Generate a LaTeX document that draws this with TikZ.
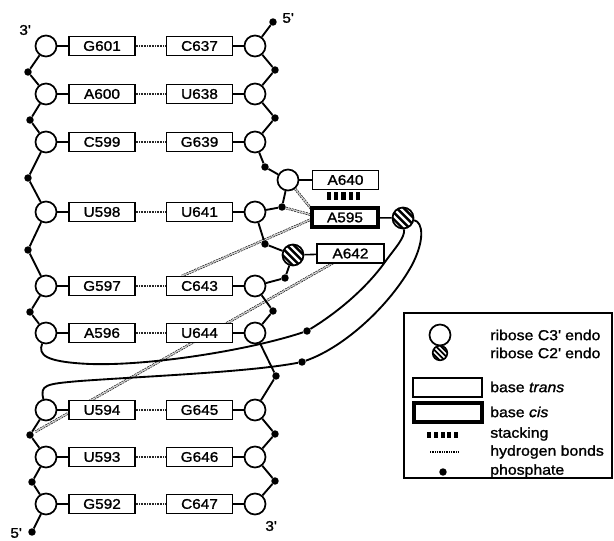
\documentclass[tikz,border=0pt]{standalone}
\usepackage{fontspec}
\setmainfont{Liberation Sans}[FakeStretch=1.1,FakeBold=1.3]
\usetikzlibrary{calc}
\begin{document}
\begin{tikzpicture}[x=0.75pt,y=-0.75pt,
  ribose/.style={circle,draw,line width=1.3pt,inner sep=0pt,minimum size=15.75pt,fill=white},
  hatched/.style={ribose,path picture={\foreach \d in {-5.6,-1.9,1.9,5.6}{\pgfmathsetmacro\ha{0.707*(\d+12)}\pgfmathsetmacro\hb{0.707*(\d-12)}\draw[line width=1.8pt] ([shift={(\ha pt,\hb pt)}]path picture bounding box.center) -- ([shift={(\hb pt,\ha pt)}]path picture bounding box.center);}}},
  hatchedsmall/.style={circle,draw,line width=1.2pt,inner sep=0pt,minimum size=11pt,fill=white,path picture={\foreach \d in {-4.1,-1.4,1.4,4.1}{\pgfmathsetmacro\ha{0.707*(\d+9)}\pgfmathsetmacro\hb{0.707*(\d-9)}\draw[line width=1.4pt] ([shift={(\ha pt,\hb pt)}]path picture bounding box.center) -- ([shift={(\hb pt,\ha pt)}]path picture bounding box.center);}}},
  base/.style={draw,line width=1.2pt,fill=white,minimum width=49.5pt,minimum height=14.25pt,inner sep=0pt,font=\fontsize{10.5}{12}\selectfont},
  basecis/.style={base,line width=2.4pt},
  phos/.style={circle,fill,inner sep=0pt,minimum size=5.6pt},
  bb/.style={line width=1.4pt},
  conn/.style={line width=1.2pt},
  hb/.style={line width=1.5pt,dash pattern=on 0.7pt off 0.5pt,black!85},
  hbl/.style={black!90,line width=0.5pt,double=black!15,double distance=0.9pt,dash pattern=on 1.5pt off 0.7pt},
  endlab/.style={font=\fontsize{10.5}{12}\selectfont,inner sep=0pt},
  legtext/.style={anchor=west,font=\fontsize{10.8}{12}\selectfont,inner sep=0pt}
]
\useasboundingbox (0,0) rectangle (614,541);

% long hydrogen bonds (background)
\coordinate (h1) at (313,211);
\coordinate (h2) at (312,215);
\coordinate (h3) at (312,219);
\coordinate (h3e) at (182,276);
\coordinate (h4) at (333,263);
\coordinate (h4e) at (35,432);
\node[ribose] (ac) at (288,180) {};
\node[phos] (pa4) at (282,207) {};
\draw[hbl] (ac) -- (h1);
\draw[hbl] (pa4) -- (h2);
\draw[hbl] (h3) -- (h3e);
\draw[hbl] (h4) -- (h4e);

% base pairs
\foreach \y/\a/\b/\i in {46/G601/C637/1,94/A600/U638/2,142/C599/G639/3,212/U598/U641/4,286/G597/C643/5,333/A596/U644/6,410/U594/G645/7,457/U593/G646/8,504/G592/C647/9}{
  \node[ribose] (L\i) at (46,\y) {};
  \node[ribose] (R\i) at (255,\y) {};
  \node[base] (LB\i) at (102,\y) {\a};
  \node[base] (RB\i) at (199.5,\y) {\b};
  \draw[conn] (L\i) -- (LB\i);
  \draw[conn] (RB\i) -- (R\i);
  \draw[hb] (LB\i) -- (RB\i);
}

% unpaired bases
\node[base] (b640) at (345.5,180) {A640};
\node[basecis] (b595) at (345,217.5) {A595};
\node[hatched] (c595) at (403,218) {};
\node[hatched] (bc) at (293,255) {};
\node[base,minimum width=50.25pt] (b642) at (350.5,253.5) {A642};
\draw[conn] (ac) -- (b640);
\draw[conn] (b595) -- (c595);
\draw[conn] (bc) -- (b642);
\foreach \i in {0,...,4}{\fill (327+\i*7.2,192) rectangle ++(4.2,8);}

% phosphates left
\node[phos] (lp12) at (28,72) {};
\node[phos] (lp23) at (30,120) {};
\node[phos] (lp34) at (28,178) {};
\node[phos] (lp45) at (28,250) {};
\node[phos] (lp56) at (30,312) {};
\node[phos] (lp78) at (30,435) {};
\node[phos] (lp89) at (32,482) {};
\node[phos] (l5) at (32,532) {};
% phosphates right
\node[phos] (rtop) at (273,22) {};
\node[phos] (rp12) at (275,70) {};
\node[phos] (rp23) at (275,118) {};
\node[phos] (rp3a) at (265,167) {};
\node[phos] (p4b) at (265,244) {};
\node[phos] (pb5) at (285,278) {};
\node[phos] (rp56) at (273,311) {};
\node[phos] (rp67) at (276,376) {};
\node[phos] (rp78) at (275,434) {};
\node[phos] (rp89) at (275,481) {};
\node[phos] (pU) at (307,331) {};
\node[phos] (pL) at (302,362) {};

% backbones
\draw[bb] (L1) -- (lp12) -- (L2) -- (lp23) -- (L3) -- (lp34) -- (L4) -- (lp45) -- (L5) -- (lp56) -- (L6);
\draw[bb] (L7) -- (lp78) -- (L8) -- (lp89) -- (L9) -- (l5);
\draw[bb] (rtop) -- (R1) -- (rp12) -- (R2) -- (rp23) -- (R3) -- (rp3a) -- (ac) -- (pa4) -- (R4) -- (p4b) -- (bc) -- (pb5) -- (R5) -- (rp56) -- (R6) -- (rp67) -- (R7) -- (rp78) -- (R8) -- (rp89) -- (R9);

% loop curves
\draw[bb] (L6) .. controls (38,355) and (45,362) .. (90,364) .. controls (150,366) and (250,350) .. (pU) .. controls (335,314) and (365,290) .. (385,262) .. controls (395,248) and (405,238) .. (c595);
\draw[bb] (L7) .. controls (40,385) and (45,384) .. (80,381) .. controls (150,376) and (250,372) .. (pL) .. controls (345,347) and (390,305) .. (412,265) .. controls (425,240) and (423,222) .. (c595);

% end labels
\node[endlab] (t3a) at (25,30) {3\textquotesingle};
\node[endlab] (t5a) at (288,18) {5\textquotesingle};
\node[endlab] (t5b) at (16,533) {5\textquotesingle};
\node[endlab] (t3b) at (271,526) {3\textquotesingle};

% legend
\node[draw,line width=1.2pt,minimum width=156pt,minimum height=123.75pt,inner sep=0pt] (legend) at (508,395.5) {};
\node[ribose] (lg1) at (440,335) {};
\node[legtext] (lt1) at (490,335) {ribose C3\textquotesingle{} endo};
\node[hatchedsmall] (lg2) at (440,353) {};
\node[legtext] (lt2) at (490,353) {ribose C2\textquotesingle{} endo};
\node[base,minimum width=51.75pt] (lg3) at (447.5,387.5) {};
\node[legtext] (lt3) at (490,387) {base \textit{trans}};
\node[basecis,minimum width=51pt] (lg4) at (448,412.5) {};
\node[legtext] (lt4) at (490,412) {base \textit{cis}};
\foreach \i in {0,...,4}{\fill (427+\i*6.8,432) rectangle ++(4,6.5);}
\node[legtext] (lt5) at (490,434) {stacking};
\coordinate (lh1) at (430,452);
\coordinate (lh2) at (458,452);
\draw[line width=0.9pt,dash pattern=on 0.7pt off 0.6pt] (lh1) -- (lh2);
\node[legtext] (lt6) at (490,452) {hydrogen bonds};
\node[phos] (lg7) at (443,472) {};
\node[legtext] (lt7) at (490,471) {phosphate};
\end{tikzpicture}
\end{document}
